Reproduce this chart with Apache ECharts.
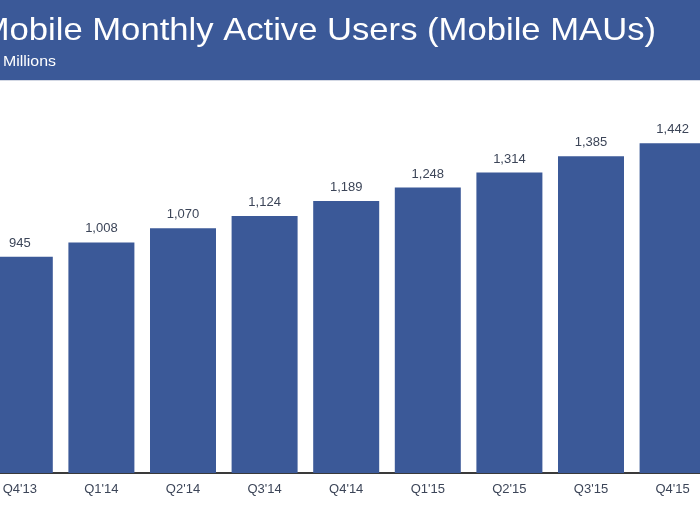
<!DOCTYPE html>
<html>
<head>
<meta charset="utf-8">
<script src="https://cdn.jsdelivr.net/npm/echarts@6/dist/echarts.min.js"></script>
<style>
html,body{margin:0;padding:0;background:#fff;width:700px;height:525px;overflow:hidden;position:relative;}
#chart{position:absolute;left:-21px;top:0;width:735px;height:525px;}
</style>
</head>
<body>
<div id="chart"></div>
<script>
var categories = ["Q4'13", "Q1'14", "Q2'14", "Q3'14", "Q4'14", "Q1'15", "Q2'15", "Q3'15", "Q4'15"];
var mobileMAUs = [945, 1008, 1070, 1124, 1189, 1248, 1314, 1385, 1442];
var titleText = 'Mobile Monthly Active Users (Mobile MAUs)';
var subtitleText = 'Millions';

var OFF = 21; // container is shifted 21px left of the page
var chart = echarts.init(document.getElementById('chart'), null, {renderer: 'canvas'});
var font = '"Liberation Sans", Arial, Helvetica, sans-serif';
chart.setOption({
  animation: false,
  backgroundColor: '#ffffff',
  graphic: [
    {type: 'rect', x: 0, y: 0, shape: {x: 0, y: 0, width: 735, height: 80}, style: {fill: '#3b5998'}, z: 0},
    {type: 'rect', x: 0, y: 80, shape: {x: 0, y: 0, width: 735, height: 1}, style: {fill: '#d3d8e4'}, z: 0},
    {type: 'text', x: 656 + OFF, y: 15, scaleX: 1.082, scaleY: 1,
     style: {text: titleText, fill: '#ffffff', font: '32px ' + font, textAlign: 'right', verticalAlign: 'top'}, z: 10},
    {type: 'text', x: 3 + OFF, y: 54, scaleX: 1.06, scaleY: 1,
     style: {text: subtitleText, fill: '#ffffff', font: '15px ' + font, textAlign: 'left', verticalAlign: 'top'}, z: 10}
  ],
  grid: {left: 0, right: 0.6, top: 107, bottom: 52, containLabel: false},
  xAxis: {
    type: 'category',
    data: categories,
    axisLine: {show: true, lineStyle: {color: '#3a3a3a', width: 2}},
    axisTick: {show: false},
    axisLabel: {color: '#3c4558', fontSize: 13, fontFamily: font, margin: 10, interval: 0}
  },
  yAxis: {
    type: 'value', min: 0, max: 1600,
    show: false, splitLine: {show: false}
  },
  series: [{
    type: 'bar',
    data: mobileMAUs,
    barWidth: 66,
    itemStyle: {color: '#3b5998'},
    label: {
      show: true, position: 'top', distance: 7,
      color: '#3c4558', fontSize: 13, fontFamily: font,
      formatter: function(p){ return p.value.toLocaleString('en-US'); }
    }
  }]
});
</script>
</body>
</html>
